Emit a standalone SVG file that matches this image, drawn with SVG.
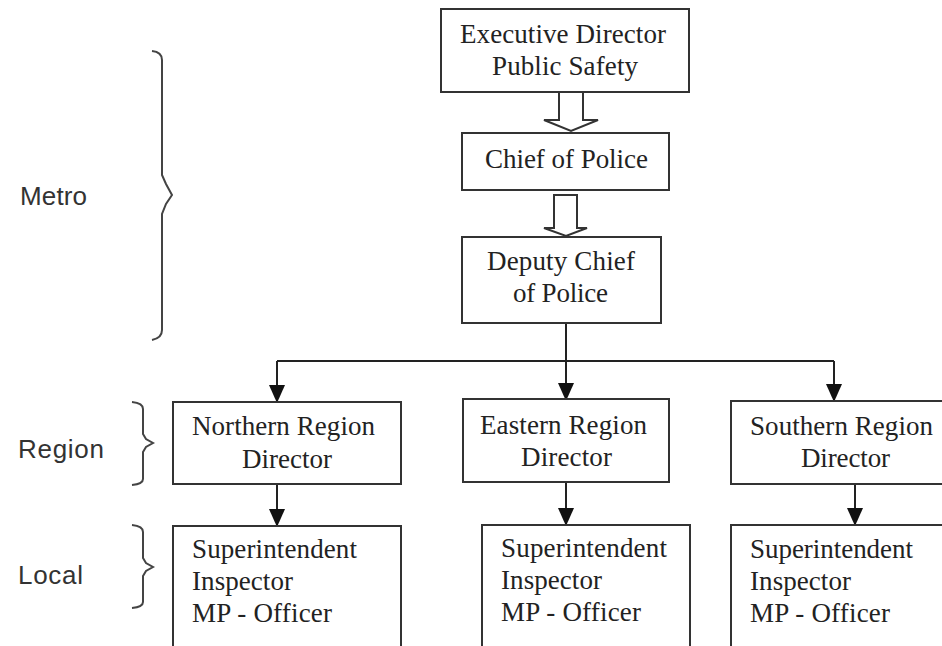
<svg xmlns="http://www.w3.org/2000/svg" width="942" height="646" viewBox="0 0 942 646">
<style>
.box{fill:#fff;stroke:#333;stroke-width:2}
.t{font-family:"Liberation Serif","Times New Roman",serif;font-size:27px;fill:#222}
.lbl{font-family:"Liberation Sans",Arial,sans-serif;font-size:26px;fill:#333}
.ln{fill:none;stroke:#222;stroke-width:2}
.hol{fill:#fff;stroke:#333;stroke-width:2;stroke-linejoin:miter}
.br{fill:none;stroke:#444;stroke-width:2}
</style>
<defs>
<marker id="ah" viewBox="0 0 18 16" markerUnits="userSpaceOnUse" markerWidth="18" markerHeight="16" refX="17" refY="8" orient="auto">
<path d="M0,0 L18,8 L0,16 z" fill="#111"/>
</marker>
</defs>
<rect width="942" height="646" fill="#fff"/>

<g id="labels">
<text class="lbl" x="20" y="205" textLength="67">Metro</text>
<text class="lbl" x="18" y="458" textLength="86">Region</text>
<text class="lbl" x="18" y="584" textLength="65">Local</text>
<path class="br" d="M152,51 Q162,52 162,60 L162,175 L166,184 L172,195 L166,204 L162,214 L162,330 Q162,338 152,340"/>
<path class="br" d="M132,402 Q143,403 143,409 L143,434 L146,439 L153,443 L146,447 L143,452 L143,479 Q143,484 132,485"/>
<path class="br" d="M132,525 Q143,526 143,532 L143,558 L146,563 L153,567 L146,571 L143,576 L143,602 Q143,607 132,608"/>
</g>

<g id="connectors">
<polygon class="hol" points="559,92 583,92 583,120 598,120 571,131 544,120 559,120"/>
<polygon class="hol" points="554,195 577,195 577,228 587,228 566,236 544,228 554,228"/>
<path class="ln" d="M566,323 L566,400" marker-end="url(#ah)"/>
<path class="ln" d="M277,361 L834,361"/>
<path class="ln" d="M277,361 L277,402" marker-end="url(#ah)"/>
<path class="ln" d="M834,361 L834,401" marker-end="url(#ah)"/>
<path class="ln" d="M277,484 L277,526" marker-end="url(#ah)"/>
<path class="ln" d="M566,482 L566,525" marker-end="url(#ah)"/>
<path class="ln" d="M855,484 L855,525" marker-end="url(#ah)"/>
</g>

<g id="exec">
<rect class="box" x="441" y="9" width="248" height="83"/>
<text class="t" x="460" y="43" textLength="206">Executive Director</text>
<text class="t" x="492" y="75" textLength="146">Public Safety</text>
</g>
<g id="chief">
<rect class="box" x="462" y="133" width="207" height="57"/>
<text class="t" x="485" y="168" textLength="163">Chief of Police</text>
</g>
<g id="deputy">
<rect class="box" x="462" y="237" width="199" height="86"/>
<text class="t" x="487" y="270" textLength="148">Deputy Chief</text>
<text class="t" x="513" y="302" textLength="95">of Police</text>
</g>
<g id="northern">
<rect class="box" x="173" y="402" width="228" height="82"/>
<text class="t" x="192" y="435" textLength="183">Northern Region</text>
<text class="t" x="242" y="468" textLength="90">Director</text>
</g>
<g id="eastern">
<rect class="box" x="463" y="399" width="206" height="83"/>
<text class="t" x="480" y="434" textLength="167">Eastern Region</text>
<text class="t" x="521" y="466" textLength="91">Director</text>
</g>
<g id="southern">
<rect class="box" x="731" y="401" width="220" height="83"/>
<text class="t" x="750" y="435" textLength="183">Southern Region</text>
<text class="t" x="801" y="467" textLength="89">Director</text>
</g>
<g id="northern-local">
<rect class="box" x="173" y="526" width="228" height="140"/>
<text class="t" x="192" y="558" textLength="165">Superintendent</text>
<text class="t" x="192" y="590" textLength="101">Inspector</text>
<text class="t" x="192" y="622" textLength="140">MP - Officer</text>
</g>
<g id="eastern-local">
<rect class="box" x="482" y="525" width="208" height="140"/>
<text class="t" x="501" y="557" textLength="166">Superintendent</text>
<text class="t" x="501" y="589" textLength="101">Inspector</text>
<text class="t" x="501" y="621" textLength="140">MP - Officer</text>
</g>
<g id="southern-local">
<rect class="box" x="731" y="525" width="220" height="140"/>
<text class="t" x="750" y="558" textLength="163">Superintendent</text>
<text class="t" x="750" y="590" textLength="101">Inspector</text>
<text class="t" x="750" y="622" textLength="140">MP - Officer</text>
</g>
</svg>
